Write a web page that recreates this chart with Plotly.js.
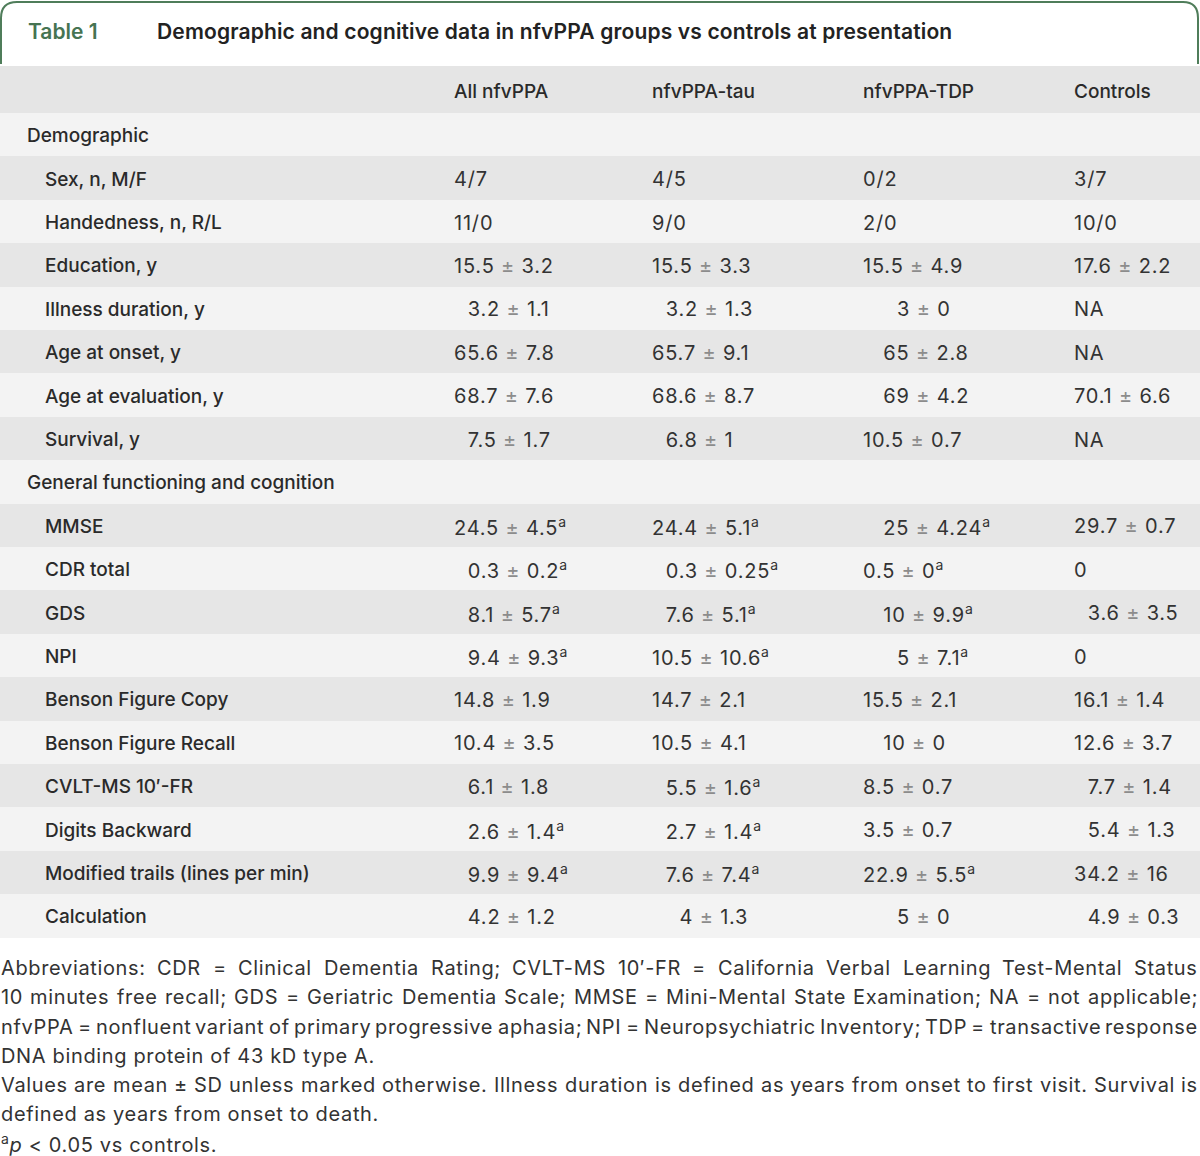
<!DOCTYPE html>
<html><head><meta charset="utf-8">
<script src="https://cdn.plot.ly/plotly-3.0.1.min.js"></script>
<style>html,body{margin:0;padding:0;background:#fff}#chart{width:1200px;height:1156px}</style>
</head><body><div id="chart"></div>
<script>
// ---------- DATA ----------
const tableNumber = "Table 1";
const tableTitle = "Demographic and cognitive data in nfvPPA groups vs controls at presentation";
const columnHeaders = ["All nfvPPA", "nfvPPA-tau", "nfvPPA-TDP", "Controls"];
const sectionHeaders = ["Demographic", "General functioning and cognition"];
const rowLabels = [
  "Demographic", "Sex, n, M/F", "Handedness, n, R/L", "Education, y", "Illness duration, y",
  "Age at onset, y", "Age at evaluation, y", "Survival, y", "General functioning and cognition",
  "MMSE", "CDR total", "GDS", "NPI", "Benson Figure Copy", "Benson Figure Recall",
  "CVLT-MS 10\u2032-FR", "Digits Backward", "Modified trails (lines per min)", "Calculation"
];
// "\u2007" = figure space used as in the original typesetting; "^" marks superscript a
const allNfvPPA = ["", "4/7", "11/0", "15.5 ± 3.2", "\u20073.2 ± 1.1", "65.6 ± 7.8", "68.7 ± 7.6", "\u20077.5 ± 1.7", "",
  "24.5 ± 4.5^", "\u20070.3 ± 0.2^", "\u20078.1 ± 5.7^", "\u20079.4 ± 9.3^", "14.8 ± 1.9", "10.4 ± 3.5",
  "\u20076.1 ± 1.8", "\u20072.6 ± 1.4^", "\u20079.9 ± 9.4^", "\u20074.2 ± 1.2"];
const nfvPPAtau = ["", "4/5", "9/0", "15.5 ± 3.3", "\u20073.2 ± 1.3", "65.7 ± 9.1", "68.6 ± 8.7", "\u20076.8 ± 1", "",
  "24.4 ± 5.1^", "\u20070.3 ± 0.25^", "\u20077.6 ± 5.1^", "10.5 ± 10.6^", "14.7 ± 2.1", "10.5 ± 4.1",
  "\u20075.5 ± 1.6^", "\u20072.7 ± 1.4^", "\u20077.6 ± 7.4^", "\u2007\u20074 ± 1.3"];
const nfvPPAtdp = ["", "0/2", "2/0", "15.5 ± 4.9", "\u2007\u2008\u20073 ± 0", "\u2007\u200865 ± 2.8", "\u2007\u200869 ± 4.2", "10.5 ± 0.7", "",
  "\u2007\u200825 ± 4.24^", "0.5 ± 0^", "\u2007\u200810 ± 9.9^", "\u2007\u2008\u20075 ± 7.1^", "15.5 ± 2.1", "\u2007\u200810 ± 0",
  "8.5 ± 0.7", "3.5 ± 0.7", "22.9 ± 5.5^", "\u2007\u2008\u20075 ± 0"];
const controls = ["", "3/7", "10/0", "17.6 ± 2.2", "NA", "NA", "70.1 ± 6.6", "NA", "",
  "29.7 ± 0.7", "0", "\u20073.6 ± 3.5", "0", "16.1 ± 1.4", "12.6 ± 3.7",
  "\u20077.7 ± 1.4", "\u20075.4 ± 1.3", "34.2 ± 16", "\u20074.9 ± 0.3"];
const footnoteLines = [
  "Abbreviations: CDR = Clinical Dementia Rating; CVLT-MS 10\u2032-FR = California Verbal Learning Test-Mental Status",
  "10 minutes free recall; GDS = Geriatric Dementia Scale; MMSE = Mini-Mental State Examination; NA = not applicable;",
  "nfvPPA = nonfluent variant of primary progressive aphasia; NPI = Neuropsychiatric Inventory; TDP = transactive response",
  "DNA binding protein of 43 kD type A.",
  "Values are mean ± SD unless marked otherwise. Illness duration is defined as years from onset to first visit. Survival is",
  "defined as years from onset to death.",
  "<sup>a</sup><i>p</i> &lt; 0.05 vs controls."
];
const footnoteJustified = [true, true, true, false, true, false, false];

// ---------- LAYOUT CONSTANTS ----------
const W = 1200, H = 1156;
const FONT = "Inter, Roboto, 'Liberation Sans', sans-serif";
const rowH = 43.4, firstRowCenter = 134.7; // px
const idx = p => 1 + (p - firstRowCenter) / rowH;      // pixel -> row-index axis
const py = p => 1 - p / H;                              // pixel -> paper
const colX = [453.5, 651.5, 862.5, 1073.5];
const columns = [allNfvPPA, nfvPPAtau, nfvPPAtdp, controls];
const VAL_LS = 0.8, FN_LS = 0.65;

const ls = (s, v) => `<span style="letter-spacing:${v}px">${s}</span>`;
const fmt = s => ls(s.replace("±", '<span style="color:#8c8c8c">±</span>').replace("^", "<sup>a</sup>"), VAL_LS);

// ---------- ROW BANDS (bar trace on the row-index axis) ----------
const bandY = [], bandW = [], bandC = [], bandX = [];
bandY.push((idx(66) + idx(113)) / 2); bandW.push(idx(113) - idx(66)); bandC.push("#e5e5e5"); bandX.push(W);
rowLabels.forEach((r, i) => {
  bandY.push(i + 1); bandW.push(1); bandX.push(W);
  bandC.push(i % 2 === 0 ? "#f3f3f3" : "#e6e6e6");
});
const bands = {
  type: "bar", orientation: "h", y: bandY, x: bandX, base: 0, width: bandW,
  marker: {color: bandC, line: {width: 0}}, hoverinfo: "skip", showlegend: false
};

// ---------- ANNOTATIONS ----------
const ann = [];
const txt = (o) => Object.assign({showarrow: false, xanchor: "left", yanchor: "middle", align: "left", borderpad: 0, borderwidth: 0}, o);
// title
ann.push(txt({xref: "x", yref: "paper", x: 28, y: py(31), text: tableNumber,
  font: {family: FONT, size: 21, color: "#467452", weight: 600}}));
ann.push(txt({xref: "x", yref: "paper", x: 157, y: py(31), text: ls(tableTitle, 0.15),
  font: {family: FONT, size: 21, color: "#222222", weight: 600}}));
// header
columnHeaders.forEach((h, c) => ann.push(txt({xref: "x", yref: "y", x: colX[c], y: 0, text: h,
  font: {family: FONT, size: 19, color: "#2a2a2a", weight: 500}})));
// rows
rowLabels.forEach((r, i) => {
  const isSection = sectionHeaders.includes(r);
  ann.push(txt({xref: "x", yref: "y", x: isSection ? 27 : 45, y: i + 1, yshift: -1, text: r,
    font: {family: FONT, size: 19, color: "#2a2a2a", weight: 500}}));
  columns.forEach((col, c) => {
    if (col[i]) ann.push(txt({xref: "x", yref: "y", x: colX[c], y: i + 1, yshift: -1, text: fmt(col[i]),
      font: {family: FONT, size: 20, color: "#333333"}}));
  });
});
// footnotes (justified lines built word by word)
const fnY = [968, 997, 1027, 1056, 1085, 1114, 1143];
const fnFont = {family: FONT, size: 20, color: "#333333"};
const canvas = document.createElement("canvas");
const ctx = canvas.getContext("2d");
ctx.font = "20px Inter, Roboto, sans-serif";
const FN_LEFT = 1, FN_RIGHT = 1198;
footnoteLines.forEach((line, k) => {
  if (footnoteJustified[k]) {
    const words = line.split(" ");
    const widths = words.map(w => ctx.measureText(w).width + FN_LS * [...w].length);
    const total = widths.reduce((a, b) => a + b, 0);
    const gap = (FN_RIGHT - FN_LEFT - total) / (words.length - 1);
    let x = FN_LEFT;
    words.forEach((w, j) => {
      const last = j === words.length - 1;
      ann.push(txt({xref: "x", yref: "paper", x: last ? FN_RIGHT : x, xanchor: last ? "right" : "left",
        y: py(fnY[k]), text: ls(w, FN_LS), font: fnFont}));
      x += widths[j] + gap;
    });
  } else {
    ann.push(txt({xref: "x", yref: "paper", x: FN_LEFT, y: py(fnY[k]), text: ls(line, FN_LS), font: fnFont}));
  }
});

// ---------- SHAPES (green title tab) ----------
const px2 = (x, y) => `${x / W},${py(y)}`;
const tabPath = `M${px2(1, 64)} L${px2(1, 18)} Q${px2(1, 2)} ${px2(17, 2)} L${px2(1183, 2)} Q${px2(1198, 2)} ${px2(1198, 18)} L${px2(1198, 64)}`;
const shapes = [{type: "path", xref: "paper", yref: "paper", path: tabPath,
  line: {color: "#4f7d5a", width: 2}}];

const layout = {
  width: W, height: H, margin: {l: 0, r: 0, t: 0, b: 0, pad: 0},
  paper_bgcolor: "#ffffff", plot_bgcolor: "#ffffff",
  xaxis: {range: [0, W], visible: false, fixedrange: true},
  yaxis: {range: [idx(H), idx(0)], visible: false, fixedrange: true},
  bargap: 0, showlegend: false, annotations: ann, shapes: shapes
};
Plotly.newPlot("chart", [bands], layout, {displayModeBar: false, staticPlot: true});
</script></body></html>
